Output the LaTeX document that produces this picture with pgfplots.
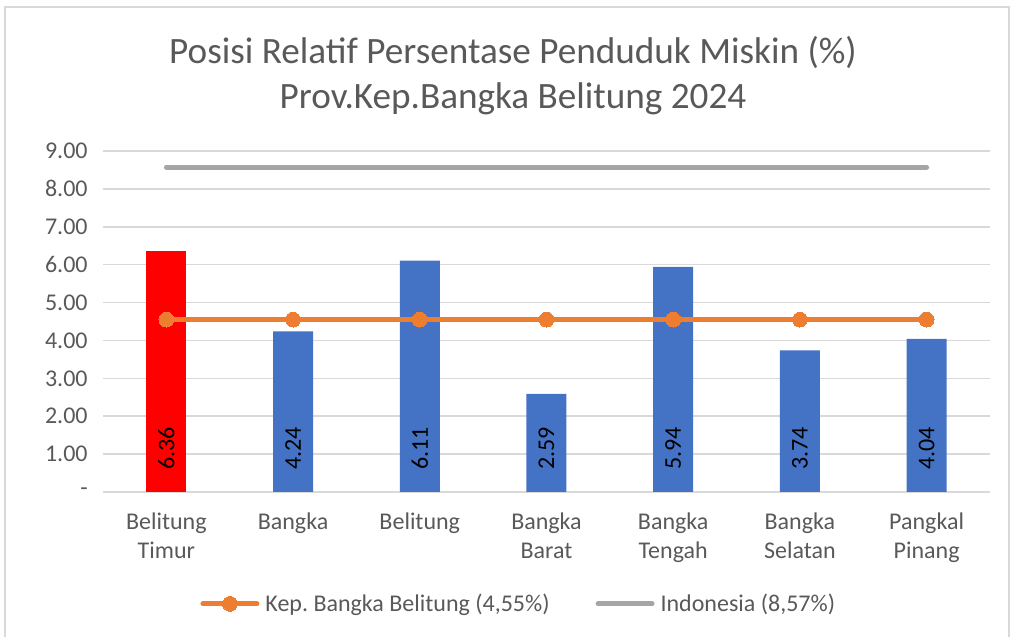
\documentclass[border=0pt]{standalone}
\usepackage{pgfplots}
\usepackage{pgfplotstable}
\pgfplotsset{compat=1.18}
\usepackage{fontspec}
\setmainfont{Carlito}
\frenchspacing

\definecolor{barblue}{HTML}{4472C4}
\definecolor{barred}{HTML}{FF0000}
\definecolor{lineorange}{HTML}{ED7D31}
\definecolor{linegray}{HTML}{A5A5A5}
\definecolor{gridgray}{HTML}{D9D9D9}
\definecolor{txtgray}{HTML}{595959}

% kabupaten/kota: persentase penduduk miskin 2024
\pgfplotstableread{
x y
0 6.36
1 4.24
2 6.11
3 2.59
4 5.94
5 3.74
6 4.04
}\miskin

\pgfplotstableread{
x prov nas
0 4.55 8.57
1 4.55 8.57
2 4.55 8.57
3 4.55 8.57
4 4.55 8.57
5 4.55 8.57
6 4.55 8.57
}\garis

\begin{document}
\begin{tikzpicture}
\path[use as bounding box] (-51.5pt,-72.5pt) rectangle (455.5pt,246pt);
\draw[gridgray, line width=0.8pt] (-49pt,-80pt) rectangle (453pt,242.5pt);
\begin{axis}[
    scale only axis,
    width=443.5pt,
    height=170.5pt,
    xmin=-0.5, xmax=6.5,
    ymin=0, ymax=9,
    axis line style={draw=none},
    ytick={0,1,...,9},
    yticklabels={-,1.00,2.00,3.00,4.00,5.00,6.00,7.00,8.00,9.00},
    xtick={0,...,6},
    xticklabels={{Belitung\\Timur},Bangka,Belitung,{Bangka\\Barat},{Bangka\\Tengah},{Bangka\\Selatan},{Pangkal\\Pinang}},
    major tick length=0pt,
    tick style={draw=none},
    ymajorgrids,
    grid style={gridgray, line width=0.8pt},
    tick label style={font=\fontsize{12}{14.5}\selectfont, text=txtgray},
    yticklabel style={anchor=east, inner sep=0pt, xshift=-7.5pt},
    xticklabel style={align=center, anchor=north, inner sep=0pt, yshift=-10pt},
    /pgf/number format/assume math mode=true,
    legend columns=2,
    legend style={draw=none, fill=none, at={(0.471,-0.328)}, anchor=center,
        font=\fontsize{12}{14.5}\selectfont, text=txtgray,
        /tikz/every even column/.append style={column sep=20pt},
        inner sep=0pt, cells={anchor=west}, nodes={inner xsep=3pt}},
    legend image code/.code={\draw[mark repeat=2,mark phase=2,#1] plot coordinates {(0pt,0pt) (13.5pt,0pt) (27pt,0pt)};},
    clip=false,
]
\addplot[ybar, bar width=20pt, fill=barred, draw=none, forget plot,
    restrict x to domain=0:0] table[x=x, y=y] {\miskin};
\addplot[ybar, bar width=20pt, fill=barblue, draw=none, forget plot,
    restrict x to domain=1:6] table[x=x, y=y] {\miskin};
\addplot[draw=none, mark=none, forget plot, point meta=explicit,
    nodes near coords={\pgfmathprintnumber[fixed,fixed zerofill,precision=2]{\pgfplotspointmeta}},
    every node near coord/.style={font=\fontsize{12}{14}\selectfont, text=black,
        anchor=west, inner sep=0pt, yshift=11pt, rotate=90}]
    table[x=x, y expr=0, meta=y] {\miskin};
\addplot[lineorange, line width=2.5pt, line cap=round, mark=*,
    mark size=3.7pt, mark options={fill=lineorange, draw=lineorange, line width=0pt}]
    table[x=x, y=prov] {\garis};
\addlegendentry{Kep. Bangka Belitung (4,55\%)}
\addplot[linegray, line width=2.5pt, line cap=round, mark=none]
    table[x=x, y=nas] {\garis};
\addlegendentry{Indonesia (8,57\%)}
\end{axis}
\node[align=center, text=txtgray, font=\fontsize{18.6}{22.5}\selectfont] at (205pt,208pt)
    {Posisi Relatif Persentase Penduduk Miskin (\%)\\Prov.Kep.Bangka Belitung 2024};
\end{tikzpicture}
\end{document}
